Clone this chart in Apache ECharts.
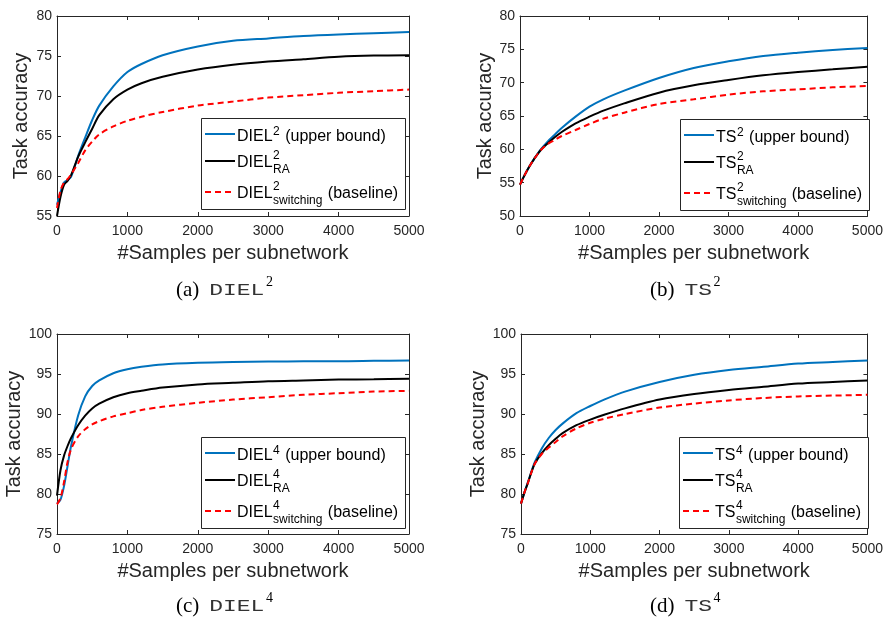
<!DOCTYPE html>
<html><head><meta charset="utf-8">
<script src="https://cdn.jsdelivr.net/npm/echarts@6/dist/echarts.min.js"></script>
<style>html,body{margin:0;padding:0;background:#fff}#c{width:886px;height:617px}</style>
</head><body><div id="c"></div>
<script>
// ---------------- data ----------------
const xSamples = [0, 50, 100, 150, 200, 300, 400, 500, 600, 800, 1000, 1200, 1500, 2000, 2500, 3000, 3500, 4000, 4500, 5000];
const xTicks = [0, 1000, 2000, 3000, 4000, 5000];

// (a) DIEL^2
const diel2Upper  = [56.4, 58.0, 59.2, 59.5, 59.9, 62.5, 64.8, 67.0, 68.8, 71.2, 73.0, 74.0, 75.1, 76.2, 76.9, 77.2, 77.5, 77.7, 77.85, 78.0];
const diel2RA     = [55.0, 57.4, 58.9, 59.4, 60.1, 62.4, 64.2, 65.9, 67.6, 69.6, 70.8, 71.6, 72.4, 73.3, 73.9, 74.3, 74.6, 74.9, 75.05, 75.1];
const diel2Switch = [56.0, 58.2, 59.2, 59.6, 60.2, 61.6, 63.2, 64.3, 65.2, 66.2, 66.9, 67.4, 68.0, 68.8, 69.3, 69.8, 70.1, 70.4, 70.6, 70.8];
const yTicksA = [55, 60, 65, 70, 75, 80];

// (b) TS^2
const ts2Upper  = [54.7, 55.8, 56.8, 57.7, 58.5, 60.0, 61.2, 62.2, 63.2, 64.9, 66.4, 67.5, 68.8, 70.7, 72.2, 73.2, 74.0, 74.5, 74.9, 75.2];
const ts2RA     = [54.7, 55.8, 56.8, 57.7, 58.5, 59.9, 60.9, 61.8, 62.6, 63.9, 64.9, 65.8, 66.9, 68.5, 69.6, 70.4, 71.1, 71.6, 72.0, 72.4];
const ts2Switch = [54.7, 55.8, 56.8, 57.7, 58.5, 59.9, 60.8, 61.4, 62.0, 62.9, 63.8, 64.6, 65.5, 66.8, 67.5, 68.2, 68.7, 69.0, 69.3, 69.5];
const yTicksB = [50, 55, 60, 65, 70, 75, 80];

// (c) DIEL^4
const diel4Upper  = [78.8, 79.3, 81.0, 83.5, 86.0, 89.8, 92.2, 93.5, 94.2, 95.1, 95.6, 95.9, 96.2, 96.4, 96.5, 96.55, 96.6, 96.6, 96.65, 96.7];
const diel4RA     = [79.8, 83.0, 84.8, 86.0, 87.0, 88.6, 89.8, 90.7, 91.3, 92.1, 92.6, 92.9, 93.3, 93.7, 93.9, 94.1, 94.2, 94.3, 94.35, 94.4];
const diel4Switch = [78.7, 79.5, 81.5, 84.0, 85.6, 87.2, 88.1, 88.7, 89.1, 89.7, 90.1, 90.5, 90.9, 91.4, 91.8, 92.1, 92.4, 92.6, 92.8, 92.9];
const yTicksC = [75, 80, 85, 90, 95, 100];

// (d) TS^4
const ts4Upper  = [78.8, 80.2, 81.5, 82.8, 84.0, 85.7, 87.0, 88.0, 88.8, 90.1, 91.0, 91.8, 92.8, 94.0, 94.9, 95.5, 95.9, 96.3, 96.5, 96.7];
const ts4RA     = [78.8, 80.2, 81.4, 82.7, 83.8, 85.1, 86.1, 86.9, 87.6, 88.6, 89.3, 89.9, 90.7, 91.8, 92.5, 93.0, 93.4, 93.8, 94.0, 94.2];
const ts4Switch = [78.8, 80.2, 81.4, 82.7, 83.8, 85.0, 85.8, 86.5, 87.2, 88.2, 88.9, 89.4, 90.0, 90.8, 91.3, 91.7, 92.0, 92.2, 92.3, 92.4];
const yTicksD = [75, 80, 85, 90, 95, 100];

const panelLetters = ['(a)', '(b)', '(c)', '(d)'];
const methodNames = ['DIEL', 'TS', 'DIEL', 'TS'];
const powers = ['2', '2', '4', '4'];
const legendSubs = ['', 'RA', 'switching'];
const legendSuffix = [' (upper bound)', '', ' (baseline)'];
const xTitle = '#Samples per subnetwork';
const yTitle = 'Task accuracy';

// ---------------- layout / style ----------------
const panelSeries = [
  [diel2Upper, diel2RA, diel2Switch],
  [ts2Upper, ts2RA, ts2Switch],
  [diel4Upper, diel4RA, diel4Switch],
  [ts4Upper, ts4RA, ts4Switch]
];
const panelYTicks = [yTicksA, yTicksB, yTicksC, yTicksD];
const grids = [
  {left: 57, top: 16, width: 352, height: 200},
  {left: 520, top: 16, width: 352, height: 200},
  {left: 57, top: 334, width: 352, height: 200},
  {left: 521, top: 334, width: 351, height: 200}
];
const legendOff = [[144, 102], [160, 103], [144, 103], [158, 103]];
const captionX = [176, 650, 176, 650];
const captionY = [290, 290, 606, 606];
const yNameGap = [26, 24, 26, 24];

const colors = ['#0072BD', '#000000', '#FF0000'];
const dashes = ['solid', 'solid', [6, 4]];
const AX = '#262626';
const SANS = '"Liberation Sans", Arial, Helvetica, sans-serif';
const SERIF = '"Liberation Serif", "Times New Roman", serif';
const MONO = '"Liberation Mono", "Courier New", monospace';

const mctx = document.createElement('canvas').getContext('2d');
function tw(str, size, fam) { mctx.font = size + 'px ' + fam; return mctx.measureText(str).width; }

const xAxes = [], yAxes = [], series = [], graphics = [];
function txt(x, y, s, size, fam, extra) {
  return Object.assign({
    type: 'text', x: x, y: y, z: 101,
    style: {text: s, font: size + 'px ' + fam, fill: '#000', align: 'left', verticalAlign: 'middle'}
  }, extra || {});
}

grids.forEach((g, i) => {
  const yt = panelYTicks[i];
  const common = {gridIndex: i, type: 'value', splitLine: {show: false},
    axisLine: {show: true, onZero: false, lineStyle: {color: AX, width: 1}},
    axisTick: {show: true, inside: true, length: 4, lineStyle: {color: AX, width: 1}}};
  xAxes.push(Object.assign({}, common, {
    position: 'bottom', min: xTicks[0], max: xTicks[xTicks.length - 1], interval: xTicks[1] - xTicks[0],
    axisLabel: {color: AX, fontSize: 14, fontFamily: SANS, margin: 8, formatter: v => String(v)},
    name: xTitle, nameLocation: 'middle', nameGap: 27,
    nameTextStyle: {color: AX, fontSize: 20, fontFamily: SANS}
  }));
  xAxes.push(Object.assign({}, common, {
    position: 'top', min: xTicks[0], max: xTicks[xTicks.length - 1], interval: xTicks[1] - xTicks[0],
    axisLabel: {show: false}
  }));
  yAxes.push(Object.assign({}, common, {
    position: 'left', min: yt[0], max: yt[yt.length - 1], interval: yt[1] - yt[0],
    axisLabel: {color: AX, fontSize: 14, fontFamily: SANS, margin: 5, formatter: v => String(v)},
    name: yTitle, nameLocation: 'middle', nameGap: yNameGap[i],
    nameTextStyle: {color: AX, fontSize: 20, fontFamily: SANS}
  }));
  yAxes.push(Object.assign({}, common, {
    position: 'right', min: yt[0], max: yt[yt.length - 1], interval: yt[1] - yt[0],
    axisLabel: {show: false}
  }));

  panelSeries[i].forEach((arr, k) => {
    series.push({
      type: 'line', xAxisIndex: 2 * i, yAxisIndex: 2 * i,
      data: xSamples.map((x, j) => [x, arr[j]]),
      showSymbol: false, symbol: 'none', smooth: 0.3,
      lineStyle: {color: colors[k], width: 2, type: dashes[k]},
      z: 2 + k, silent: true, animation: false
    });
  });

  // legend box
  const L = g.left + legendOff[i][0], T = g.top + legendOff[i][1];
  const name = methodNames[i], pw = powers[i];
  const nameW = tw(name, 16, SANS);
  const textX = L + 36;
  const rowY = [19, 45, 76], lineY = [16, 43, 74];
  let maxRight = 0;
  const rowEls = [];
  legendSubs.forEach((sub, k) => {
    const ry = T + rowY[k];
    rowEls.push({type: 'line', z: 101,
      shape: {x1: L + 4, y1: T + lineY[k], x2: L + 34, y2: T + lineY[k]},
      style: {stroke: colors[k], lineWidth: 2, lineDash: k === 2 ? [6, 4] : null}});
    rowEls.push(txt(textX, ry, name, 16, SANS));
    const supX = textX + nameW + 0.5;
    rowEls.push(txt(supX, ry + (sub ? -7 : -5.5), pw, 12, SANS));
    let endX = supX + tw(pw, 12, SANS);
    if (sub) {
      rowEls.push(txt(supX, ry + 7, sub, 12, SANS));
      endX = Math.max(endX, supX + tw(sub, 12, SANS));
    }
    if (legendSuffix[k]) {
      rowEls.push(txt(endX + 1, ry, legendSuffix[k], 16, SANS));
      endX = endX + 1 + tw(legendSuffix[k], 16, SANS);
    }
    maxRight = Math.max(maxRight, endX);
  });
  const W = Math.round(maxRight + 7 - L);
  graphics.push({type: 'rect', z: 100,
    shape: {x: L + 0.5, y: T + 0.5, width: W, height: 91},
    style: {fill: '#fff', stroke: AX, lineWidth: 1}});
  rowEls.forEach(e => graphics.push(e));

  // caption
  const cx = captionX[i], cy = captionY[i];
  graphics.push(txt(cx, cy, panelLetters[i], 21, SERIF));
  const mx = cx + tw(panelLetters[i], 21, SERIF) + 10;
  const sx = 1.35;
  graphics.push(txt(mx, cy, name, 17, MONO, {scaleX: sx, style: {text: name, font: '17px ' + MONO, fill: '#333', align: 'left', verticalAlign: 'middle'}}));
  const mEnd = mx + tw(name, 17, MONO) * sx;
  graphics.push(txt(mEnd + 1.5, cy - 8, pw, 14, SERIF));
});

const chart = echarts.init(document.getElementById('c'), null, {renderer: 'canvas'});
chart.setOption({
  animation: false,
  backgroundColor: '#fff',
  grid: grids.map(g => Object.assign({containLabel: false, show: false}, g)),
  xAxis: xAxes,
  yAxis: yAxes,
  series: series,
  graphic: {elements: graphics}
});
</script>
</body></html>
